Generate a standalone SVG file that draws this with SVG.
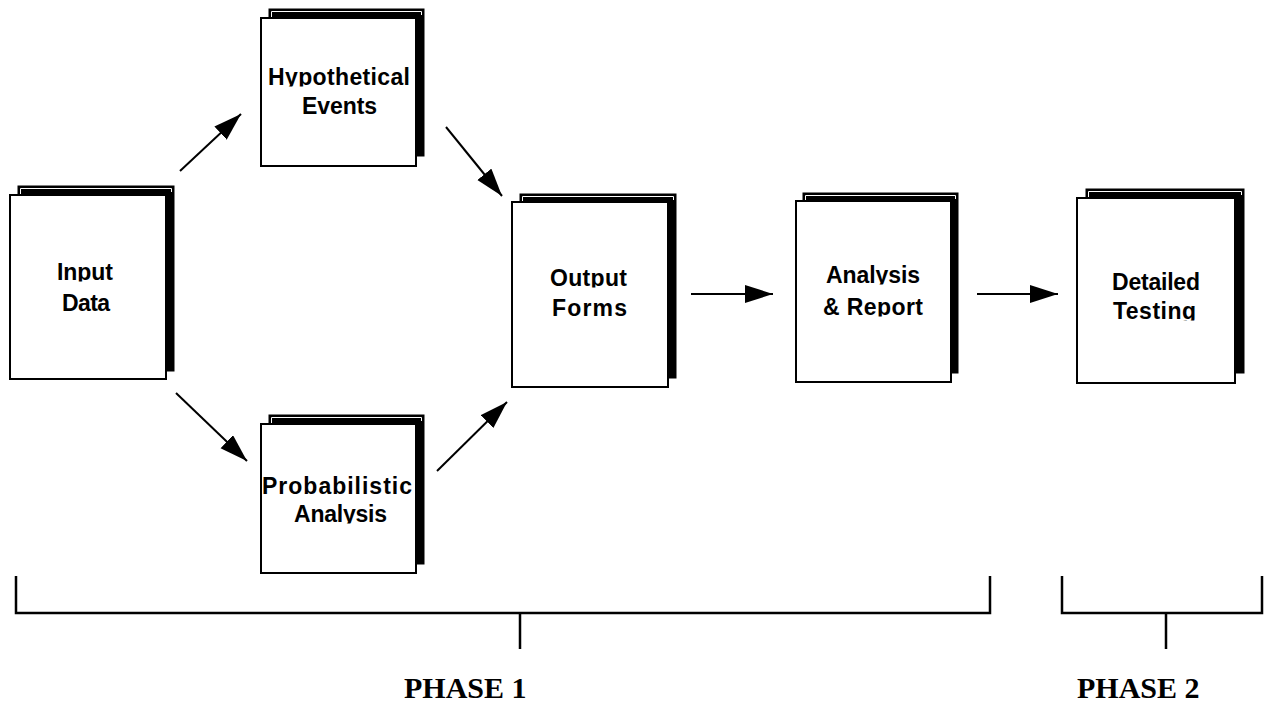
<svg xmlns="http://www.w3.org/2000/svg" width="1264" height="702" viewBox="0 0 1264 702">
<style>
.back{fill:#000;stroke:#000;stroke-width:1}
.inner{fill:none;stroke:#fff;stroke-width:1}
.front{fill:#fff;stroke:#000;stroke-width:2}
.lbl{font-family:"Liberation Sans",Arial,sans-serif;font-weight:bold;font-size:23px;fill:#000;clip-path:url(#cd)}
.conn{stroke:#000;stroke-width:2;fill:none;marker-end:url(#ah)}
.br{stroke:#000;stroke-width:2.5;fill:none}
.ph{font-family:"Liberation Serif","Times New Roman",serif;font-weight:bold;font-size:30px;fill:#000}
</style>
<defs>
<clipPath id="cd" clipPathUnits="objectBoundingBox"><rect x="-0.2" y="-0.2" width="1.4" height="1.07"/></clipPath>
<marker id="ah" markerUnits="userSpaceOnUse" markerWidth="30" markerHeight="20" refX="28" refY="9" orient="auto"><path d="M0,0 L28,9 L0,18 z" fill="#000"/></marker>
</defs>
<rect width="1264" height="702" fill="#fff"/>

<g id="input-data">
<rect class="back" x="18" y="186" width="156" height="185"/>
<path class="inner" d="M20.5,195 V188.5 H171.5 V192"/>
<rect class="front" x="10" y="195" width="156" height="184"/>
<text class="lbl" x="57" y="280" textLength="56">Input</text>
<text class="lbl" x="62" y="311" textLength="48">Data</text>
</g>

<g id="hypothetical-events">
<rect class="back" x="269" y="9" width="155" height="147"/>
<path class="inner" d="M271.5,18 V11.5 H421.5 V15"/>
<rect class="front" x="261" y="18" width="155" height="148"/>
<text class="lbl" x="268" y="85" textLength="142">Hypothetical</text>
<text class="lbl" x="302" y="114" textLength="75">Events</text>
</g>

<g id="probabilistic-analysis">
<rect class="back" x="269" y="415" width="155" height="149"/>
<path class="inner" d="M271.5,424 V417.5 H421.5 V421"/>
<rect class="front" x="261" y="424" width="155" height="149"/>
<text class="lbl" x="262" y="494" textLength="150">Probabilistic</text>
<text class="lbl" x="294" y="522" textLength="93">Analysis</text>
</g>

<g id="output-forms">
<rect class="back" x="520" y="194" width="156" height="184"/>
<path class="inner" d="M522.5,202 V196.5 H673.5 V200"/>
<rect class="front" x="512" y="202" width="156" height="185"/>
<text class="lbl" x="550" y="286" textLength="77">Output</text>
<text class="lbl" x="552" y="316" textLength="75">Forms</text>
</g>

<g id="analysis-report">
<rect class="back" x="803" y="193" width="155" height="180"/>
<path class="inner" d="M805.5,201 V195.5 H955.5 V199"/>
<rect class="front" x="796" y="201" width="155" height="181"/>
<text class="lbl" x="826" y="283" textLength="94">Analysis</text>
<text class="lbl" x="823" y="315" textLength="100">&amp; Report</text>
</g>

<g id="detailed-testing">
<rect class="back" x="1086" y="189" width="158" height="184"/>
<path class="inner" d="M1088.5,198 V191.5 H1241.5 V195"/>
<rect class="front" x="1077" y="198" width="158" height="185"/>
<text class="lbl" x="1112" y="290" textLength="88">Detailed</text>
<text class="lbl" x="1113" y="319" textLength="83">Testing</text>
</g>

<g id="connectors">
<line class="conn" x1="180" y1="171" x2="241" y2="114"/>
<line class="conn" x1="176" y1="393" x2="247" y2="461"/>
<line class="conn" x1="446" y1="127" x2="502" y2="196"/>
<line class="conn" x1="437" y1="471" x2="507" y2="402"/>
<line class="conn" x1="691" y1="294" x2="773" y2="294"/>
<line class="conn" x1="977" y1="294" x2="1058" y2="294"/>
</g>

<g id="phase-1">
<path class="br" d="M16,576 V613 H990 V576 M520,613 V649"/>
<text class="ph" x="404" y="698">PHASE 1</text>
</g>
<g id="phase-2">
<path class="br" d="M1062,576 V613 H1262 V576 M1166,613 V649"/>
<text class="ph" x="1077" y="698">PHASE 2</text>
</g>
</svg>
